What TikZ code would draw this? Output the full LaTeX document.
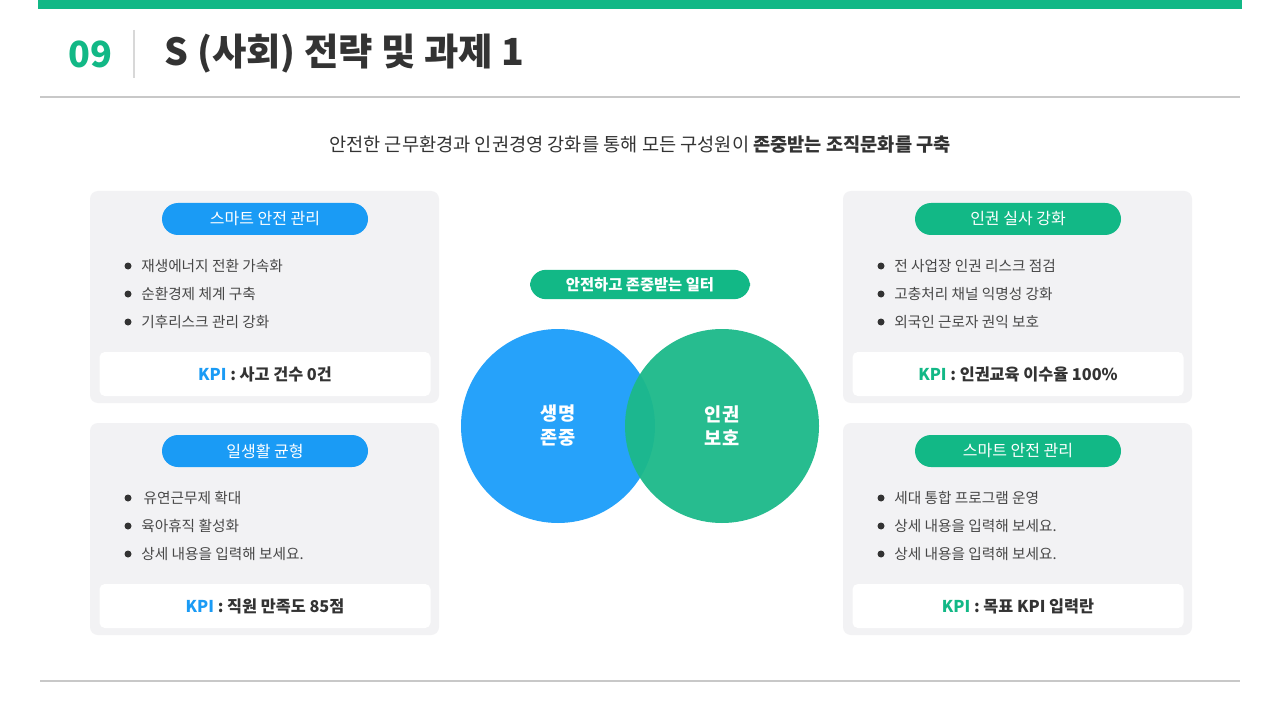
\documentclass[tikz,border=0pt]{standalone}
\usepackage{fontspec}
\setmainfont{Noto Sans CJK KR}
\usepackage{xcolor}
\usetikzlibrary{positioning}
\definecolor{esggreen}{HTML}{12B886}
\definecolor{esgblue}{HTML}{1A9BF5}
\definecolor{circblue}{HTML}{26A2FA}
\definecolor{circgreen}{HTML}{1CB98A}
\definecolor{panelgray}{HTML}{F2F2F4}
\definecolor{inkgray}{HTML}{333333}
\definecolor{rulegray}{HTML}{C8C8C8}
\newcommand{\fs}[2]{\fontsize{#1}{#2}\selectfont}
\tikzset{
  pill/.style={rounded corners=12pt, minimum width=154.5pt, minimum height=24pt, text=white, font=\fs{12}{14}},
  panel/.style={fill=panelgray, rounded corners=6pt, minimum width=261.75pt, minimum height=159pt},
  kpibox/.style={fill=white, rounded corners=4pt, minimum width=248.25pt, minimum height=33pt, font=\bfseries\fs{12.2}{15}, text=inkgray},
  item/.style={anchor=west, inner sep=0pt, font=\fs{11}{13}, text=inkgray!90},
  venn/.style={circle, minimum size=145.5pt, text=white, font=\bfseries\fs{14}{18}, align=center, inner sep=0pt}
}
\begin{document}
\begin{tikzpicture}[x=0.75pt, y=-0.75pt]
\useasboundingbox[fill=white] (0,0) rectangle (1280,720);
% header
\fill[esggreen] (38,0) rectangle (1242,9);
\node (num) at (90,54) [text=esggreen, font=\bfseries\fs{27}{30}] {09};
\draw[rulegray!70, line width=0.8pt] (134,30) -- (134,78);
\node (title) at (160,54) [anchor=west, text=inkgray, font=\bfseries\fs{28}{32}] {S (사회) 전략 및 과제 1};
\draw[rulegray, line width=0.8pt] (40,97) -- (1240,97);
\node (lead) at (640,145) [text=inkgray, font=\fs{14}{17}] {안전한 근무환경과 인권경영 강화를 통해 모든 구성원이 \textbf{존중받는 조직문화를 구축}};

% four panels
\foreach \x/\y/\col/\head/\a/\b/\c/\kpi/\name in {
  90/191/esgblue/{스마트 안전 관리}/{재생에너지 전환 가속화}/{순환경제 체계 구축}/{기후리스크 관리 강화}/{사고 건수 0건}/lt,
  90/423/esgblue/{일생활 균형}/{\,유연근무제 확대}/{육아휴직 활성화}/{상세 내용을 입력해 보세요.}/{직원 만족도 85점}/lb,
  843/191/esggreen/{인권 실사 강화}/{전 사업장 인권 리스크 점검}/{고충처리 채널 익명성 강화}/{외국인 근로자 권익 보호}/{인권교육 이수율 100\%}/rt,
  843/423/esggreen/{스마트 안전 관리}/{세대 통합 프로그램 운영}/{상세 내용을 입력해 보세요.}/{상세 내용을 입력해 보세요.}/{목표 KPI 입력란}/rb}{
 \node (\name) at (\x+174.5,\y+106) [panel] {};
 \node (\name-head) at (\x+175,\y+28) [pill, fill=\col] {\head};
 \foreach \t [count=\i] in {\a,\b,\c}{
   \fill[inkgray] (\x+38,\y+47+28*\i) circle (3.5);
   \node (\name-item\i) at (\x+51,\y+47+28*\i) [item] {\t};
 }
 \node (\name-kpi) at (\x+175,\y+183) [kpibox] {{\color{\col}KPI} : \kpi};
}

% center venn
\node (core) at (640,284.5) [pill, fill=esggreen, minimum width=165pt, minimum height=22pt, font=\bfseries\fs{11.5}{14}] {안전하고 존중받는 일터};
\node (life) at (558,426) [venn, fill=circblue] {생명\\존중};
\node (rights) at (722,426) [venn, fill=circgreen, fill opacity=0.95, text opacity=1] {인권\\보호};

\draw[rulegray, line width=0.8pt] (40,681) -- (1240,681);
\end{tikzpicture}
\end{document}
